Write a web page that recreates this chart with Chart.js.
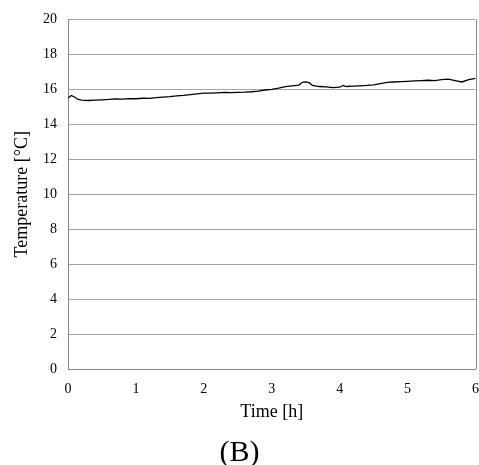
<!DOCTYPE html>
<html>
<head>
<meta charset="utf-8">
<script src="https://cdn.jsdelivr.net/npm/chart.js@4/dist/chart.umd.min.js"></script>
<style>
  html, body { margin: 0; padding: 0; background: #fff; overflow: hidden; }
  #wrap { width: 479px; height: 465px; }
</style>
</head>
<body>
<div id="wrap"><canvas id="graficoTemperatura"></canvas></div>
<script>
// temperature log
const horas = [0, 0.05, 0.1, 0.15, 0.2, 0.3, 0.4, 0.5, 0.6, 0.7, 0.8, 0.9, 1.0, 1.1, 1.2, 1.3, 1.4, 1.5,
  1.6, 1.7, 1.8, 1.9, 2.0, 2.1, 2.2, 2.3, 2.4, 2.5, 2.6, 2.7, 2.8, 2.9, 3.0, 3.1, 3.2, 3.3, 3.4,
  3.45, 3.5, 3.55, 3.6, 3.7, 3.8, 3.9, 4.0, 4.05, 4.1, 4.2, 4.3, 4.4, 4.5, 4.6, 4.7, 4.8, 4.9,
  5.0, 5.1, 5.2, 5.3, 5.4, 5.5, 5.6, 5.7, 5.8, 5.9, 6.0];
const temperaturas = [15.50, 15.65, 15.55, 15.42, 15.38, 15.36, 15.38, 15.40, 15.42, 15.45, 15.44, 15.47,
  15.46, 15.49, 15.48, 15.52, 15.55, 15.58, 15.62, 15.65, 15.70, 15.74, 15.78, 15.78, 15.80, 15.82,
  15.81, 15.83, 15.84, 15.86, 15.90, 15.96, 16.00, 16.07, 16.15, 16.20, 16.24, 16.40, 16.42, 16.38,
  16.22, 16.16, 16.14, 16.10, 16.12, 16.22, 16.16, 16.18, 16.20, 16.22, 16.26, 16.33, 16.40, 16.42,
  16.44, 16.46, 16.48, 16.50, 16.52, 16.50, 16.55, 16.58, 16.50, 16.42, 16.55, 16.62];
const pontos = horas.map((h, i) => ({ x: h, y: temperaturas[i] }));

const fonte = 'Liberation Serif, Times New Roman, serif';

// right-hand frame line of the plot area
const bordaDireita = {
    id: 'bordaDireita',
    afterDraw(chart) {
        const { ctx, chartArea } = chart;
        const x = Math.round(chartArea.right) + 0.5;
        ctx.save();
        ctx.strokeStyle = '#868686';
        ctx.lineWidth = 1;
        ctx.beginPath();
        ctx.moveTo(x, chartArea.top);
        ctx.lineTo(x, chartArea.bottom);
        ctx.stroke();
        ctx.restore();
    }
};

document.addEventListener('DOMContentLoaded', function() {
    const ctx = document.getElementById('graficoTemperatura');

    new Chart(ctx, {
        type: 'line',
        data: {
            datasets: [{
                data: pontos,
                borderColor: '#000',
                borderWidth: 1.3,
                pointRadius: 0,
                tension: 0
            }]
        },
        plugins: [bordaDireita],
        options: {
            responsive: true,
            maintainAspectRatio: false,
            animation: false,
            layout: { padding: { top: 12, right: 0, bottom: -3, left: 0 } },
            plugins: {
                legend: { display: false },
                tooltip: { enabled: false },
                title: {
                    display: true,
                    position: 'bottom',
                    text: '(B)',
                    color: '#000',
                    padding: 0,
                    font: { family: fonte, size: 30, weight: 'normal', lineHeight: 1 }
                }
            },
            scales: {
                x: {
                    type: 'linear',
                    min: 0,
                    max: 6,
                    ticks: { stepSize: 1, color: '#000', padding: 0, font: { family: fonte, size: 14 } },
                    // invisible tick marks keep the labels clear of the axis
                    grid: { display: true, drawOnChartArea: false, drawTicks: true, tickLength: 12, color: 'rgba(0,0,0,0)' },
                    border: { display: true, color: '#868686', width: 1 },
                    title: { display: true, text: 'Time [h]', color: '#000', padding: { top: 4, bottom: 15 }, font: { family: fonte, size: 18 } },
                    afterFit: (scale) => { scale.height = 69; }
                },
                y: {
                    min: 0,
                    max: 20,
                    ticks: { stepSize: 2, color: '#000', padding: 11, font: { family: fonte, size: 14 } },
                    grid: { color: '#a6a6a6', drawTicks: false },
                    border: { display: true, color: '#868686', width: 1 },
                    title: { display: true, text: 'Temperature [°C]', color: '#000', padding: { top: 11, bottom: 0 }, font: { family: fonte, size: 18 } },
                    afterFit: (scale) => { scale.width = 68; }
                }
            }
        }
    });
});
</script>
</body>
</html>
